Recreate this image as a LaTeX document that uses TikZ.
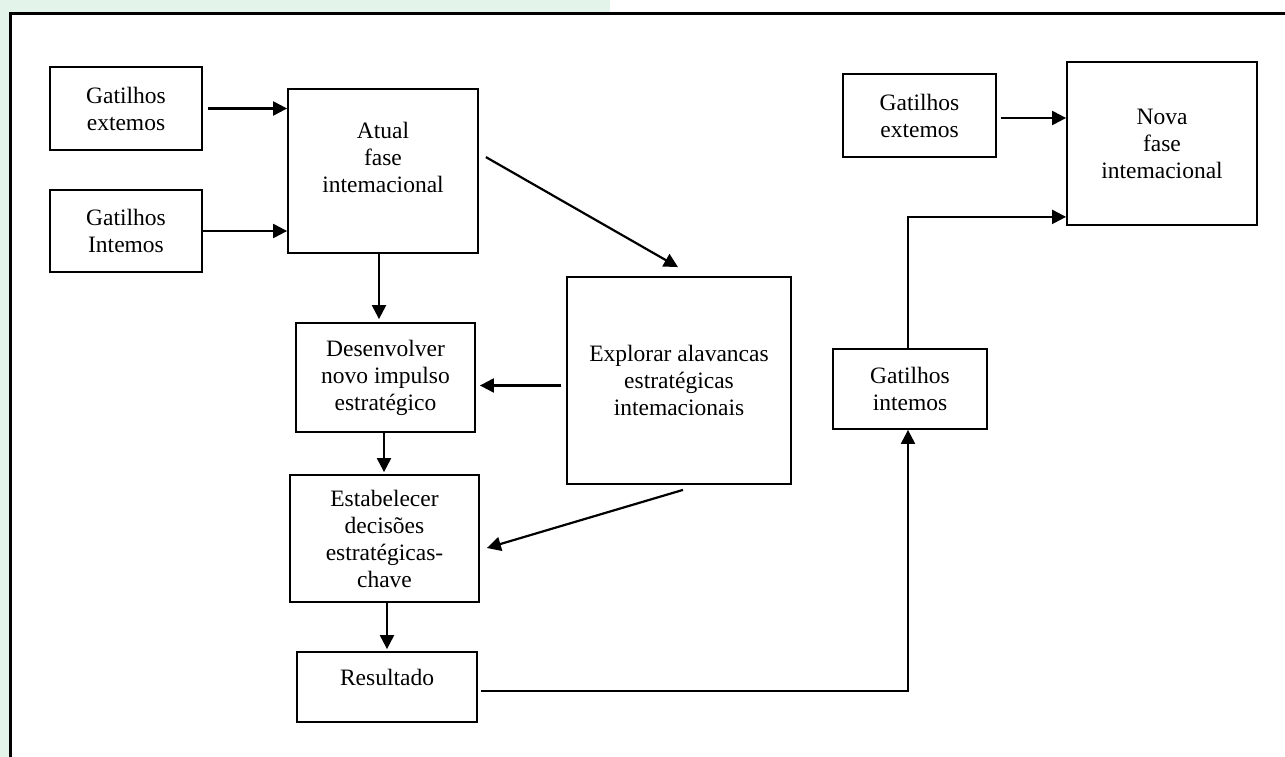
\documentclass[tikz,border=0pt]{standalone}
\usepackage{fontspec}
\setmainfont{Liberation Serif}
\usetikzlibrary{arrows.meta,calc}
\definecolor{bggreen}{HTML}{E3F4EA}
\tikzset{
  box/.style={draw=black, line width=1.8pt, rectangle, inner sep=0pt, align=center,
    font=\fontsize{23.5}{27}\selectfont},
  arr/.style={line width=2.2pt, -{Triangle[length=14pt,width=14pt]}},
  lbl/.style={font=\fontsize{23.5}{27}\selectfont, align=center, inner sep=0pt}
}
\begin{document}
\begin{tikzpicture}[x=1pt,y=-1pt]
\useasboundingbox (0,0) rectangle (1285,757);
\clip (0,0) rectangle (1285,757);
\fill[bggreen] (0,0) rectangle (610,13);
\fill[bggreen] (0,0) rectangle (8.5,757);
\draw[line width=3pt] (10,800) -- (10,13.5) -- (1300,13.5);

\node[box, minimum width=152, minimum height=83] (ge) at (126,108.5) {Gatilhos\\extemos};
\node[box, minimum width=152, minimum height=82] (gi) at (126,231) {Gatilhos\\Intemos};
\node[box, minimum width=190, minimum height=164, label={[lbl,yshift=14]center:Atual\\fase\\intemacional}] (atual) at (383,171) {};
\node[box, minimum width=153, minimum height=83] (gne) at (919.5,115.5) {Gatilhos\\extemos};
\node[box, minimum width=190, minimum height=163] (nova) at (1162,143.5) {Nova\\fase\\intemacional};
\node[box, minimum width=154, minimum height=80] (gint) at (910,389) {Gatilhos\\intemos};
\node[box, minimum width=179, minimum height=109] (des) at (385.5,377.5) {Desenvolver\\novo impulso\\estratégico};
\node[box, minimum width=224, minimum height=207] (exp) at (679,380.5) {Explorar alavancas\\estratégicas\\intemacionais};
\node[box, minimum width=189, minimum height=127] (est) at (384.5,538.5) {Estabelecer\\decisões\\estratégicas-\\chave};
\node[box, minimum width=180, minimum height=70, label={[lbl,yshift=10]center:Resultado}] (res) at (387,687) {};

\draw[arr, shorten <=5pt] (ge.east) -- (ge.east -| atual.west);
\draw[arr] (gi.east) -- (gi.east -| atual.west);
\draw[arr, shorten >=3pt] ([xshift=-4]atual.south) -- ([xshift=-4]atual.south |- des.north);
\draw[arr, shorten >=2pt] ([xshift=-1.5]des.south) -- ([xshift=-1.5]des.south |- est.north);
\draw[arr, shorten >=2pt] ([xshift=2.5]est.south) -- ([xshift=2.5]est.south |- res.north);
\draw[arr, shorten <=5pt, shorten >=4pt] ([yshift=-5]exp.west) -- ([yshift=-5]exp.west -| des.east);
\draw[arr] ($(atual.north east)+(7,69)$) -- ($(exp.north)+(-1,-9)$);
\draw[arr] ($(exp.south)+(4,5)$) -- ($(est.east)+(7,9.5)$);
\draw[arr] ($(res.east)+(3,4)$) -| ([xshift=-2]gint.south);
\draw[arr] ([xshift=-2]gint.north) |- ($(nova.south west)+(0,-9)$);
\draw[arr, shorten <=4pt] ([yshift=-2.5]gne.east) -- ([yshift=-2.5]gne.east -| nova.west);
\end{tikzpicture}
\end{document}
